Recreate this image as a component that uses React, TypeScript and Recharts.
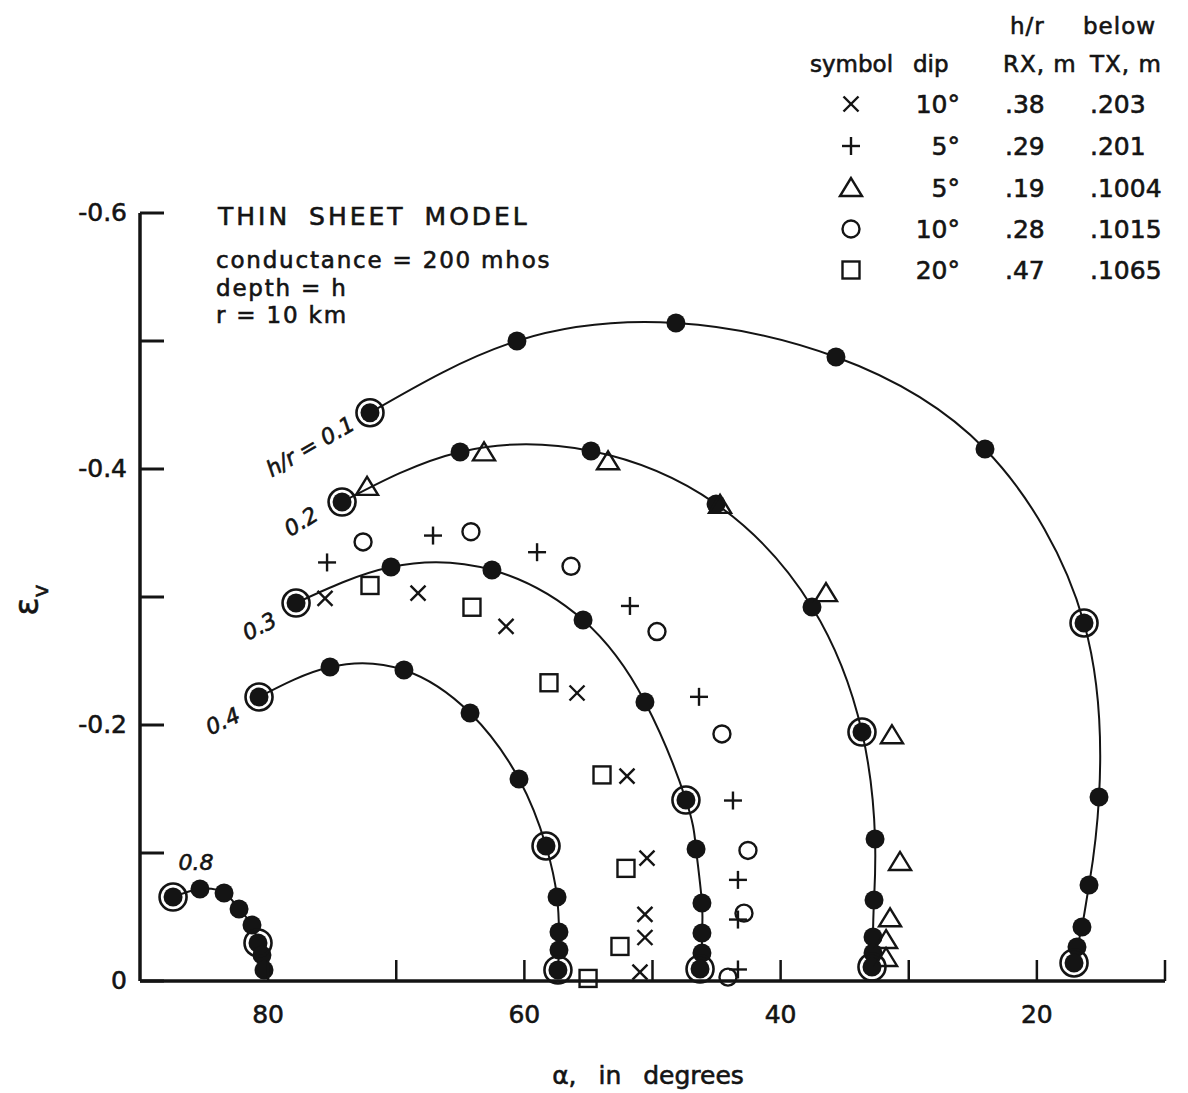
import React from 'react';
import { ScatterChart, Scatter, XAxis, YAxis } from 'recharts';

const INK = '#141414';
const FONT = '"DejaVu Sans", "Liberation Sans", sans-serif';

type Pt = [number, number];

// filled-dot curves: [alpha in degrees, epsilon_v], from the upper-left end down to the axis
const curve01: Pt[] = [
  [72.05, -0.444], [60.58, -0.5], [48.17, -0.514], [35.68, -0.4875], [24.05, -0.4156],
  [16.32, -0.2797], [15.15, -0.1437], [15.93, -0.075], [16.48, -0.0422], [16.87, -0.0266], [17.1, -0.0141],
];
const curve02: Pt[] = [
  [74.23, -0.3742], [65.02, -0.4133], [54.8, -0.4141], [45.04, -0.3727], [37.55, -0.2922],
  [33.65, -0.1945], [32.63, -0.1109], [32.71, -0.0633], [32.79, -0.0344], [32.79, -0.0219], [32.87, -0.0109],
];
const curve03: Pt[] = [
  [77.82, -0.2953], [70.41, -0.3234], [62.53, -0.3211], [55.42, -0.282], [50.59, -0.218],
  [47.39, -0.1414], [46.6, -0.1031], [46.14, -0.0609], [46.14, -0.0375], [46.14, -0.0219], [46.29, -0.0094],
];
const curve04: Pt[] = [
  [80.71, -0.2219], [75.17, -0.2453], [69.4, -0.243], [64.24, -0.2094], [60.42, -0.1578],
  [58.31, -0.1055], [57.45, -0.0656], [57.3, -0.0383], [57.3, -0.0242], [57.38, -0.0086],
];
const curve08: Pt[] = [
  [87.42, -0.0656], [85.32, -0.0719], [83.44, -0.0688], [82.27, -0.0563],
  [81.26, -0.0438], [80.79, -0.0297], [80.48, -0.0203], [80.32, -0.0086],
];

// points that carry an extra ring
const ringedPts: Pt[] = [
  [72.05, -0.444], [16.32, -0.2797], [17.1, -0.0141],
  [74.23, -0.3742], [33.65, -0.1945], [32.87, -0.0109],
  [77.82, -0.2953], [47.39, -0.1414], [46.29, -0.0094],
  [80.71, -0.2219], [58.31, -0.1055], [57.38, -0.0086],
  [87.42, -0.0656], [80.79, -0.0297],
];

// open-symbol model results
const crossPts: Pt[] = [
  [75.56, -0.299], [68.3, -0.303], [61.43, -0.277], [55.89, -0.225], [51.99, -0.16],
  [50.43, -0.096], [50.59, -0.052], [50.59, -0.034], [50.98, -0.007],
];
const plusPts: Pt[] = [
  [75.4, -0.327], [67.13, -0.348], [59.01, -0.335], [51.76, -0.293], [46.37, -0.222],
  [43.72, -0.141], [43.33, -0.079], [43.33, -0.048], [43.33, -0.009],
];
const trianglePts: Pt[] = [
  [72.28, -0.386], [63.15, -0.413], [53.47, -0.406], [44.73, -0.372], [36.46, -0.303],
  [31.31, -0.192], [30.68, -0.093], [31.46, -0.049], [31.77, -0.032], [31.77, -0.018],
];
const circlePts: Pt[] = [
  [72.59, -0.343], [64.17, -0.351], [56.36, -0.324], [49.65, -0.273], [44.58, -0.193],
  [42.55, -0.102], [42.86, -0.053], [44.11, -0.003],
];
const squarePts: Pt[] = [
  [72.05, -0.309], [64.09, -0.292], [58.08, -0.233], [53.94, -0.161], [52.07, -0.088],
  [52.54, -0.027], [55.03, -0.002],
];

const xTicks = [80, 70, 60, 50, 40, 30, 20, 10];
const xTickLabels = [80, 60, 40, 20];
const yTicks = [0, -0.1, -0.2, -0.3, -0.4, -0.5, -0.6];
const yTickLabels = [0, -0.2, -0.4, -0.6];

// legend table
const legendKinds = ['cross', 'plus', 'triangle', 'circle', 'square'];
const legendDip = ['10°', '5°', '5°', '10°', '20°'];
const legendRx = ['.38', '.29', '.19', '.28', '.47'];
const legendTx = ['.203', '.201', '.1004', '.1015', '.1065'];

const toData = (pts: Pt[]) => pts.map(([x, y]) => ({ x, y }));

// lettering is a little heavier than the plain font
const heavy = { stroke: INK, strokeWidth: 0.6 };

function Mark({ kind, cx, cy }: { kind: string; cx: number; cy: number }) {
  const s = { stroke: INK, strokeWidth: 2.4, fill: 'none' };
  switch (kind) {
    case 'cross':
      return (
        <g {...s}>
          <line x1={cx - 7.5} y1={cy - 7.5} x2={cx + 7.5} y2={cy + 7.5} />
          <line x1={cx - 7.5} y1={cy + 7.5} x2={cx + 7.5} y2={cy - 7.5} />
        </g>
      );
    case 'plus':
      return (
        <g {...s}>
          <line x1={cx - 9} y1={cy} x2={cx + 9} y2={cy} />
          <line x1={cx} y1={cy - 9} x2={cx} y2={cy + 9} />
        </g>
      );
    case 'triangle':
      return <polygon points={`${cx},${cy - 10} ${cx - 11},${cy + 8} ${cx + 11},${cy + 8}`} {...s} />;
    case 'circle':
      return <circle cx={cx} cy={cy} r={8.5} {...s} />;
    default:
      return <rect x={cx - 8.5} y={cy - 8.5} width={17} height={17} {...s} />;
  }
}

const dotShape = (p: any) => <circle cx={p.cx} cy={p.cy} r={9.5} fill={INK} />;
const ringShape = (p: any) => (
  <circle cx={p.cx} cy={p.cy} r={13.5} fill="none" stroke={INK} strokeWidth={2.6} />
);
const markShape = (kind: string) => (p: any) => <Mark kind={kind} cx={p.cx} cy={p.cy} />;

const XTick = (props: any) => {
  const { x, y, payload } = props;
  const v = payload.value;
  return (
    <g>
      <line x1={x} y1={y} x2={x} y2={y - 21} stroke={INK} strokeWidth={2.5} />
      {xTickLabels.includes(v) && (
        <text x={x} y={y + 42} textAnchor="middle" fontSize={25} fill={INK} fontFamily={FONT} {...heavy}>
          {v}
        </text>
      )}
    </g>
  );
};

const YTick = (props: any) => {
  const { x, y, payload } = props;
  const v = payload.value;
  const labelled = yTickLabels.some((t) => Math.abs(t - v) < 1e-6);
  return (
    <g>
      <line x1={x} y1={y} x2={x + 24} y2={y} stroke={INK} strokeWidth={3} />
      {labelled && (
        <text x={x - 13} y={y + 8} textAnchor="end" fontSize={25} fill={INK} fontFamily={FONT} {...heavy}>
          {v === 0 ? '0' : v.toFixed(1)}
        </text>
      )}
    </g>
  );
};

const curves = [curve01, curve02, curve03, curve04, curve08];
const openSeries: [string, Pt[]][] = [
  ['cross', crossPts],
  ['plus', plusPts],
  ['triangle', trianglePts],
  ['circle', circlePts],
  ['square', squarePts],
];

function Notes() {
  const rowY = [113, 155, 197, 238, 279];
  return (
    <svg
      width={1188}
      height={1093}
      style={{ position: 'absolute', left: 0, top: 0, pointerEvents: 'none' }}
      fontFamily={FONT}
      fill={INK}
    >
      <g {...heavy}>
        <text x={218} y={225} fontSize={25} letterSpacing={3} style={{ wordSpacing: 8 }}>
          THIN SHEET MODEL
        </text>
        <text x={216} y={268} fontSize={23} letterSpacing={1.8}>conductance = 200 mhos</text>
        <text x={216} y={296} fontSize={23} letterSpacing={1.8}>depth = h</text>
        <text x={216} y={323} fontSize={23} letterSpacing={1.8}>r = 10 km</text>

        {/* symbol table */}
        <text x={1010} y={34} fontSize={23} letterSpacing={1}>h/r</text>
        <text x={1083} y={34} fontSize={23} letterSpacing={1}>below</text>
        <text x={810} y={72} fontSize={23}>symbol</text>
        <text x={913} y={72} fontSize={23}>dip</text>
        <text x={1003} y={72} fontSize={23} letterSpacing={1}>RX, m</text>
        <text x={1090} y={72} fontSize={23} letterSpacing={1}>TX, m</text>
        {legendKinds.map((k, i) => (
          <g key={k}>
            <text x={960} y={rowY[i]} fontSize={25} textAnchor="end">{legendDip[i]}</text>
            <text x={1005} y={rowY[i]} fontSize={25}>{legendRx[i]}</text>
            <text x={1090} y={rowY[i]} fontSize={25}>{legendTx[i]}</text>
          </g>
        ))}

        {/* curve labels */}
        <g fontStyle="italic" fontSize={22}>
          <text x={314} y={453} textAnchor="middle" transform="rotate(-30 314 453)">h/r = 0.1</text>
          <text x={305} y={528} textAnchor="middle" transform="rotate(-32 305 528)">0.2</text>
          <text x={263} y={633} textAnchor="middle" transform="rotate(-27 263 633)">0.3</text>
          <text x={226} y={728} textAnchor="middle" transform="rotate(-25 226 728)">0.4</text>
          <text x={196} y={870} textAnchor="middle">0.8</text>
        </g>

        {/* axis titles */}
        <text x={38} y={600} fontSize={33} textAnchor="middle" transform="rotate(-90 38 600)">
          ε<tspan fontSize={22} dy={10}>v</tspan>
        </text>
        <text x={648} y={1084} fontSize={25} textAnchor="middle" style={{ wordSpacing: 14 }}>
          α, in degrees
        </text>
      </g>
      {legendKinds.map((k, i) => (
        <Mark key={k} kind={k} cx={851} cy={rowY[i] - 9} />
      ))}
    </svg>
  );
}

export default function App() {
  return (
    <div style={{ position: 'absolute', left: 0, top: 0, width: 1188, height: 1093, background: '#fff' }}>
      <ScatterChart width={1188} height={1093} margin={{ top: 213, right: 23, bottom: 0, left: 0 }}>
        <XAxis
          type="number"
          dataKey="x"
          domain={[10, 90]}
          reversed
          ticks={xTicks}
          interval={0}
          tickSize={0}
          tickMargin={0}
          tickLine={false}
          tick={XTick}
          height={112}
          axisLine={{ stroke: INK, strokeWidth: 3.5 }}
        />
        <YAxis
          type="number"
          dataKey="y"
          domain={[-0.6, 0]}
          reversed
          ticks={yTicks}
          interval={0}
          tickSize={0}
          tickMargin={0}
          tickLine={false}
          tick={YTick}
          width={140}
          axisLine={{ stroke: INK, strokeWidth: 3.5 }}
        />
        {curves.map((c, i) => (
          <Scatter
            key={`curve${i}`}
            data={toData(c)}
            fill={INK}
            line={{ stroke: INK, strokeWidth: 2 }}
            lineJointType="natural"
            shape={dotShape}
            isAnimationActive={false}
          />
        ))}
        <Scatter data={toData(ringedPts)} fill="none" shape={ringShape} isAnimationActive={false} />
        {openSeries.map(([kind, pts]) => (
          <Scatter key={kind} data={toData(pts)} fill="none" shape={markShape(kind)} isAnimationActive={false} />
        ))}
      </ScatterChart>
      <Notes />
    </div>
  );
}
